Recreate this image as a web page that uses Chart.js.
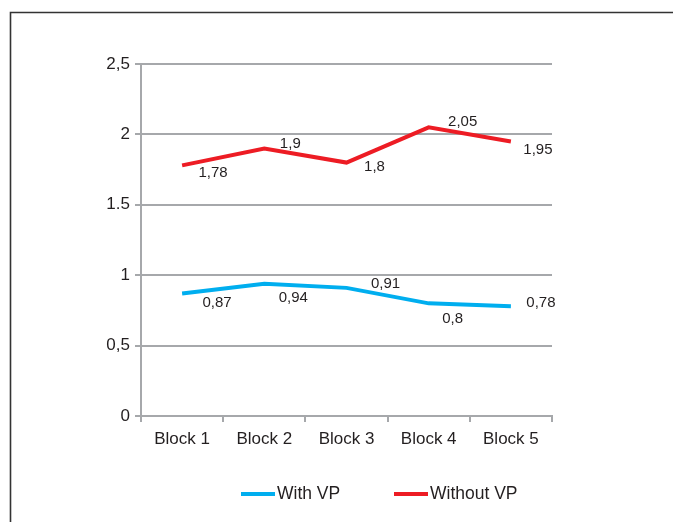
<!DOCTYPE html>
<html>
<head>
<meta charset="utf-8">
<script src="https://cdn.jsdelivr.net/npm/chart.js@4/dist/chart.umd.min.js"></script>
<style>
  html, body { margin: 0; padding: 0; background: #fff; }
  #wrap { width: 673px; height: 522px; position: relative; }
</style>
</head>
<body>
<div id="wrap"><canvas id="c" width="673" height="522"></canvas></div>
<script>
// Categories and series
const blocks = ['Block 1', 'Block 2', 'Block 3', 'Block 4', 'Block 5'];
const withVP = [0.87, 0.94, 0.91, 0.8, 0.78];
const withoutVP = [1.78, 1.9, 1.8, 2.05, 1.95];
// Y axis tick labels, from 0 upwards
const yTickLabels = ['0', '0,5', '1', '1.5', '2', '2,5'];

// Value label placement (offset from each point, in pixels)
const labelOffsetsWith = [[35, 9], [29, 14], [39, -4], [24, 15], [30, -3]];
const labelOffsetsWithout = [[31, 7], [26, -5], [28, 4], [34, -6], [27, 8]];

const FONT = '"Liberation Sans", Arial, Helvetica, sans-serif';
const TEXT = '#231f20';
const GRID = '#a6a8ab';
const BLUE = '#00aeef';
const RED = '#ed1c24';

// Outer frame (top and left edges)
const framePlugin = {
  id: 'frame',
  beforeDraw(chart) {
    const ctx = chart.ctx;
    ctx.save();
    ctx.strokeStyle = '#333333';
    ctx.lineWidth = 1.6;
    ctx.beginPath();
    ctx.moveTo(10.5, 522);
    ctx.lineTo(10.5, 12.5);
    ctx.lineTo(673, 12.5);
    ctx.stroke();
    ctx.restore();
  }
};

// Value labels next to each point
const valueLabels = {
  id: 'valueLabels',
  afterDatasetsDraw(chart) {
    const ctx = chart.ctx;
    ctx.save();
    ctx.font = '15px ' + FONT;
    ctx.fillStyle = TEXT;
    ctx.textAlign = 'center';
    ctx.textBaseline = 'middle';
    chart.data.datasets.forEach((ds, di) => {
      const meta = chart.getDatasetMeta(di);
      const offs = ds.labelOffsets;
      meta.data.forEach((pt, i) => {
        const v = ds.data[i];
        const txt = String(v).replace('.', ',');
        ctx.fillText(txt, pt.x + offs[i][0], pt.y + offs[i][1]);
      });
    });
    ctx.restore();
  }
};

// Legend with line swatches
const lineLegend = {
  id: 'lineLegend',
  afterDraw(chart) {
    const ctx = chart.ctx;
    const items = [{ x: 241 }, { x: 394 }];
    const y = 494;
    ctx.save();
    ctx.font = '17.5px ' + FONT;
    ctx.textBaseline = 'middle';
    ctx.textAlign = 'left';
    chart.data.datasets.forEach((ds, i) => {
      const x = items[i].x;
      ctx.strokeStyle = ds.borderColor;
      ctx.lineWidth = 4;
      ctx.beginPath();
      ctx.moveTo(x, y);
      ctx.lineTo(x + 34, y);
      ctx.stroke();
      ctx.fillStyle = TEXT;
      ctx.fillText(ds.label, x + 36, y);
    });
    ctx.restore();
  }
};

new Chart(document.getElementById('c'), {
  type: 'line',
  data: {
    labels: blocks,
    datasets: [
      {
        label: 'With VP',
        data: withVP,
        borderColor: BLUE,
        backgroundColor: BLUE,
        borderWidth: 4,
        pointRadius: 0,
        tension: 0,
        labelOffsets: labelOffsetsWith
      },
      {
        label: 'Without VP',
        data: withoutVP,
        borderColor: RED,
        backgroundColor: RED,
        borderWidth: 4,
        pointRadius: 0,
        tension: 0,
        labelOffsets: labelOffsetsWithout
      }
    ]
  },
  options: {
    responsive: false,
    animation: false,
    events: [],
    layout: { padding: { left: 0, right: 121, top: 64, bottom: 0 } },
    plugins: {
      legend: { display: false },
      tooltip: { enabled: false },
      title: { display: false }
    },
    scales: {
      x: {
        offset: true,
        grid: {
          offset: true,
          drawOnChartArea: false,
          drawTicks: true,
          tickLength: 6,
          color: GRID,
          lineWidth: 2
        },
        border: { display: true, color: GRID, width: 2 },
        ticks: {
          font: { family: FONT, size: 17 },
          color: TEXT,
          padding: 7,
          maxRotation: 0
        },
        afterFit(s) { s.height = 106; }
      },
      y: {
        min: 0,
        max: 2.5,
        ticks: {
          stepSize: 0.5,
          font: { family: FONT, size: 17 },
          color: TEXT,
          padding: 5,
          callback: (v, i) => yTickLabels[i]
        },
        grid: {
          color: GRID,
          lineWidth: 2,
          drawTicks: true,
          tickLength: 6
        },
        border: { display: true, color: GRID, width: 2 },
        afterFit(s) { s.width = 141; }
      }
    }
  },
  plugins: [framePlugin, valueLabels, lineLegend]
});
</script>
</body>
</html>
